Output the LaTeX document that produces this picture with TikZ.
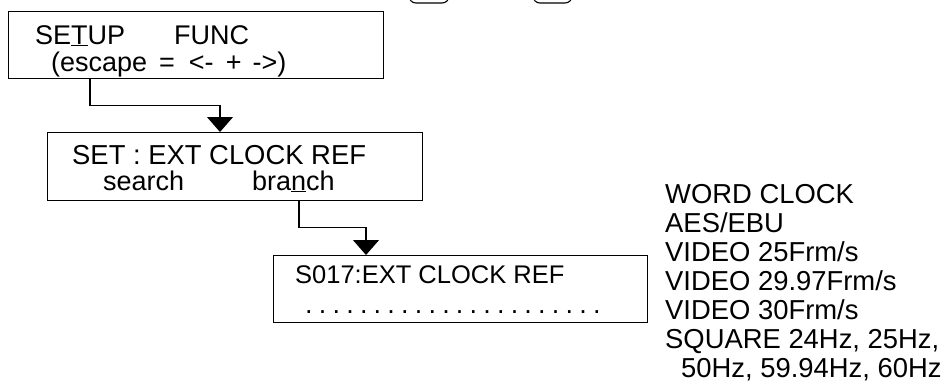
\documentclass[tikz,border=0pt]{standalone}
\usepackage{fontspec}
\setmainfont{Liberation Sans}
\usetikzlibrary{arrows.meta}
\begin{document}
\begin{tikzpicture}[x=1pt,y=-1pt,
  box/.style={draw, line width=1.2pt, inner sep=0pt, anchor=north west},
  txt/.style={anchor=base west, inner sep=0pt, font=\fontsize{27}{29}\selectfont},
  conn/.style={line width=1.1pt, -{Triangle[width=26pt,length=15pt]}},
  keycap/.style={draw, line width=1.1pt, rounded corners=7pt}]
\useasboundingbox (0,0) rectangle (946,383);
\fill[white] (0,0) rectangle (946,383);
\begin{scope}
  \clip (0,0) rectangle (946,383);
  \draw[keycap] (409,-20) rectangle (449,3);
  \draw[keycap] (533,-20) rectangle (572,3);
\end{scope}
% boxes
\node[box, minimum width=375pt, minimum height=67pt] (b1) at (8,11) {};
\node[box, minimum width=375pt, minimum height=68pt] (b2) at (47,132) {};
\node[box, minimum width=374pt, minimum height=67pt] (b3) at (273,255) {};
% box 1 text
\node[txt] (t1a) at (35,44) {SE\underline{T}UP};
\node[txt] (t1b) at (174,44) {FUNC};
\node[txt] (t1c) at (51,71) {(escape\hspace{12pt}=\hspace{14pt}<-\hspace{12pt}+\hspace{11pt}->)};
% box 2 text
\node[txt, font=\fontsize{27.4}{29}\selectfont] (t2a) at (72,164) {SET : EXT CLOCK REF};
\node[txt] (t2b) at (103,190) {search};
\node[txt] (t2c) at (252,190) {bra\underline{n}ch};
% box 3 text
\node[txt, font=\fontsize{25.5}{29}\selectfont] (t3a) at (295,283) {S017:EXT CLOCK REF};
\node[txt] (t3b) at (305,313) {\foreach \i in {1,...,21}{.\hspace{6.2pt}}.};
% list
\node[txt, align=left, font=\fontsize{27.4}{29}\selectfont] (list) at (665,377) {WORD CLOCK\\AES/EBU\\VIDEO 25Frm/s\\VIDEO 29.97Frm/s\\VIDEO 30Frm/s\\SQUARE 24Hz, 25Hz,\\\hspace*{16pt}50Hz, 59.94Hz, 60Hz};
% connectors
\draw[conn] ([xshift=82pt]b1.south west) -- ++(0,26) -| ([xshift=173pt]b2.north west);
\draw[conn] ([xshift=252pt]b2.south west) -- ++(0,26) -| ([xshift=93pt]b3.north west);
\end{tikzpicture}
\end{document}
